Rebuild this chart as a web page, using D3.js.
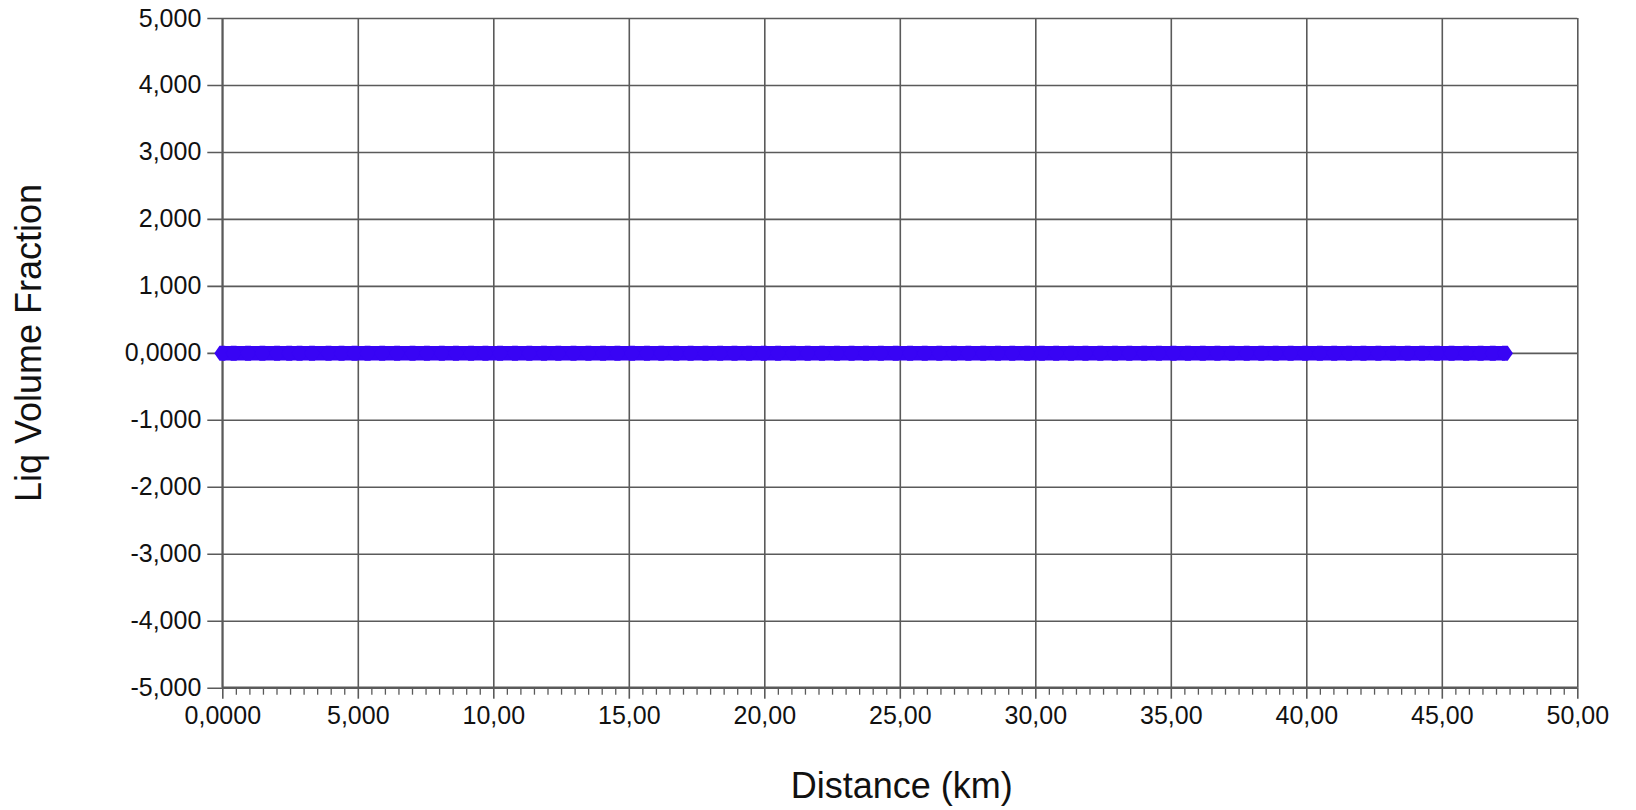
<!DOCTYPE html>
<html>
<head>
<meta charset="utf-8">
<script src="https://cdn.jsdelivr.net/npm/d3@7/dist/d3.min.js"></script>
<style>
  html, body { margin: 0; padding: 0; background: #fff; }
  svg { display: block; font-family: "Liberation Sans", Arial, sans-serif; }
</style>
</head>
<body>
<svg id="chart" width="1636" height="810"></svg>
<script>
// ---- data ----
const distanceKm = [
  0, 0.42, 0.95, 1.48, 2.02, 2.47, 2.85, 3.31, 3.92, 4.40,
  4.88, 5.36, 5.90, 6.45, 7.02, 7.55, 8.10, 8.62, 9.18, 9.71,
  10.25, 10.80, 11.33, 11.87, 12.40, 12.96, 13.51, 14.05, 14.58, 15.12,
  15.67, 16.20, 16.75, 17.28, 17.83, 18.37, 18.90, 19.44, 19.98, 20.51,
  21.06, 21.60, 22.13, 22.68, 23.22, 23.75, 24.30, 24.85, 25.38, 25.92,
  26.46, 27.00, 27.53, 28.08, 28.62, 29.15, 29.70, 30.24, 30.77, 31.32,
  31.85, 32.40, 32.94, 33.47, 34.02, 34.56, 35.10, 35.63, 36.18, 36.72,
  37.25, 37.80, 38.34, 38.87, 39.42, 39.96, 40.50, 41.03, 41.58, 42.11,
  42.66, 43.20, 43.74, 44.27, 44.82, 45.36, 45.90, 46.43, 46.88, 47.33
];
const liqVolumeFraction = [
  0, 0, 0, 0, 0, 0, 0, 0, 0, 0,
  0, 0, 0, 0, 0, 0, 0, 0, 0, 0,
  0, 0, 0, 0, 0, 0, 0, 0, 0, 0,
  0, 0, 0, 0, 0, 0, 0, 0, 0, 0,
  0, 0, 0, 0, 0, 0, 0, 0, 0, 0,
  0, 0, 0, 0, 0, 0, 0, 0, 0, 0,
  0, 0, 0, 0, 0, 0, 0, 0, 0, 0,
  0, 0, 0, 0, 0, 0, 0, 0, 0, 0,
  0, 0, 0, 0, 0, 0, 0, 0, 0, 0
];
const xTickValues = [0, 5, 10, 15, 20, 25, 30, 35, 40, 45, 50];
const xTickLabels = ["0,0000", "5,000", "10,00", "15,00", "20,00", "25,00", "30,00", "35,00", "40,00", "45,00", "50,00"];
const yTickValues = [5, 4, 3, 2, 1, 0, -1, -2, -3, -4, -5];
const yTickLabels = ["5,000", "4,000", "3,000", "2,000", "1,000", "0,0000", "-1,000", "-2,000", "-3,000", "-4,000", "-5,000"];
const xMinorStep = 0.5;
const xTitle = "Distance (km)";
const yTitle = "Liq Volume Fraction";

// ---- layout ----
const plot = { left: 222.3, right: 1577.3, top: 18, bottom: 687.7 };
const gridColor = "#5a5a5a";
const seriesColor = "#3804f4";
const tickFont = 25;

const svg = d3.select("#chart");
const x = d3.scaleLinear().domain([0, 50]).range([plot.left, plot.right]);
const y = d3.scaleLinear().domain([-5, 5]).range([plot.bottom, plot.top]);

// minor ticks on x axis
const minorTicks = d3.range(0, 50 + 1e-9, xMinorStep).filter(v => Math.abs(v / 5 - Math.round(v / 5)) > 1e-6);
svg.append("g")
  .attr("transform", `translate(0,${plot.bottom})`)
  .call(d3.axisBottom(x).tickValues(minorTicks).tickSize(7).tickFormat(""))
  .call(g => g.select(".domain").remove())
  .call(g => g.selectAll("line").attr("stroke", gridColor).attr("stroke-width", 1.3));

// x axis major ticks + labels
svg.append("g")
  .attr("transform", `translate(0,${plot.bottom})`)
  .call(d3.axisBottom(x).tickValues(xTickValues).tickSize(11).tickPadding(8)
    .tickFormat((d, i) => xTickLabels[i]))
  .call(g => g.select(".domain").remove())
  .call(g => g.selectAll("line").attr("stroke", gridColor).attr("stroke-width", 1.6))
  .call(g => g.selectAll("text").attr("font-size", tickFont).attr("fill", "#111")
    .attr("font-family", "Liberation Sans, Arial, sans-serif"));

// vertical grid
svg.append("g")
  .call(d3.axisBottom(x).tickValues(xTickValues).tickSize(plot.bottom - plot.top).tickFormat(""))
  .attr("transform", `translate(0,${plot.top})`)
  .call(g => g.select(".domain").remove())
  .call(g => g.selectAll("line").attr("stroke", gridColor).attr("stroke-width", 1.6));

// y axis ticks + labels + horizontal grid
svg.append("g")
  .attr("transform", `translate(${plot.right},0)`)
  .call(d3.axisLeft(y).tickValues(yTickValues).tickSize(plot.right - plot.left + 15).tickPadding(6)
    .tickFormat((d, i) => yTickLabels[i]))
  .call(g => g.select(".domain").remove())
  .call(g => g.selectAll("line").attr("stroke", gridColor).attr("stroke-width", 1.6))
  .call(g => g.selectAll("text").attr("font-size", tickFont).attr("fill", "#111")
    .attr("font-family", "Liberation Sans, Arial, sans-serif"));

// frame / axis lines
svg.append("line").attr("x1", plot.left).attr("x2", plot.left).attr("y1", plot.top).attr("y2", plot.bottom)
  .attr("stroke", gridColor).attr("stroke-width", 1.8);
svg.append("line").attr("x1", plot.left).attr("x2", plot.right).attr("y1", plot.bottom).attr("y2", plot.bottom)
  .attr("stroke", gridColor).attr("stroke-width", 2.4);

// series
const pts = distanceKm.map((d, i) => [d, liqVolumeFraction[i]]);
const line = d3.line().x(d => x(d[0])).y(d => y(d[1]) + 0.5);
svg.append("path")
  .datum(pts)
  .attr("d", line)
  .attr("fill", "none")
  .attr("stroke", seriesColor)
  .attr("stroke-width", 14.5)
  .attr("stroke-linecap", "butt");

const hw = 8, hh = 7.5;
svg.append("g").selectAll("path")
  .data(pts)
  .join("path")
  .attr("transform", d => `translate(${x(d[0])},${y(d[1]) + 0.5})`)
  .attr("d", `M${-hw},0L${-hw * 0.35},${-hh}L${hw * 0.35},${-hh}L${hw},0L${hw * 0.35},${hh}L${-hw * 0.35},${hh}Z`)
  .attr("fill", seriesColor);

// titles
svg.append("text")
  .attr("x", (plot.left + plot.right) / 2 + 2)
  .attr("y", 798)
  .attr("text-anchor", "middle")
  .attr("font-size", 36)
  .attr("fill", "#111")
  .text(xTitle);

svg.append("text")
  .attr("transform", `translate(41,343) rotate(-90)`)
  .attr("text-anchor", "middle")
  .attr("font-size", 36)
  .attr("fill", "#111")
  .text(yTitle);
</script>
</body>
</html>
